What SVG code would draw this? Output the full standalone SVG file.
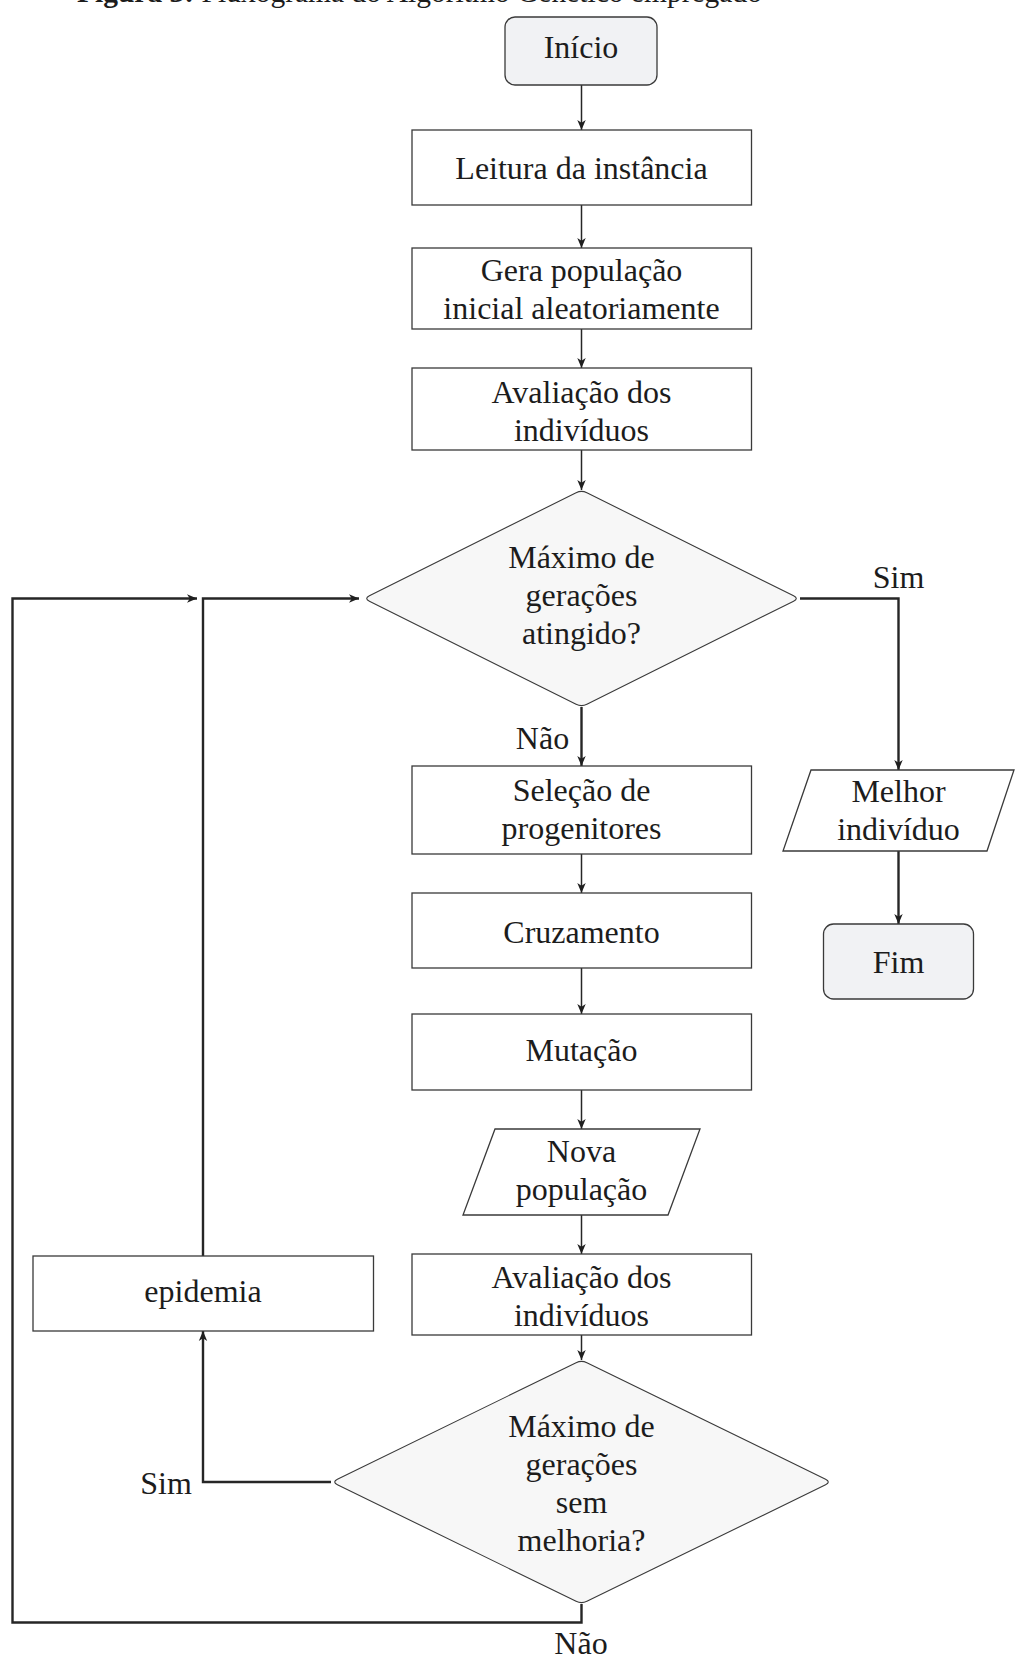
<svg xmlns="http://www.w3.org/2000/svg" width="1015" height="1659" viewBox="0 0 1015 1659">
  <defs>
    <marker id="ah" viewBox="0 0 10 10" refX="10" refY="5" markerWidth="10" markerHeight="10" markerUnits="userSpaceOnUse" orient="auto">
      <path d="M0,0.8 L10,5 L0,9.2 L2.8,5 Z" fill="#1f1f1f"/>
    </marker>
    <style>
      .box  { fill: #ffffff; stroke: #3a3a3a; stroke-width: 1.3; }
      .term { fill: #f1f2f4; stroke: #3a3a3a; stroke-width: 1.3; }
      .dec  { fill: #f7f7f7; stroke: #3a3a3a; stroke-width: 1.1; }
      .io   { fill: #ffffff; stroke: #3a3a3a; stroke-width: 1.3; }
      .lbl  { font-family: "Liberation Serif", "Times New Roman", serif; font-size: 32px; fill: #1c1c1c; text-anchor: middle; }
      .cap  { font-family: "Liberation Serif", "Times New Roman", serif; font-size: 29.5px; fill: #1c1c1c; }
      .arr  { fill: none; stroke: #262626; stroke-width: 1.5; marker-end: url(#ah); }
      .flow { fill: none; stroke: #262626; stroke-width: 2.4; }
      .flowA { marker-end: url(#ah); }
    </style>
  </defs>

  <rect width="1015" height="1659" fill="#ffffff"/>

  <!-- figure caption, running off the top edge -->
  <text class="cap" x="77" y="2"><tspan font-weight="bold">Figura 3:</tspan> Fluxograma do Algoritmo Genético empregado</text>

  <!-- connectors -->
  <g id="connectors">
    <path class="arr" d="M581.5,85 V130"/>
    <path class="arr" d="M581.5,205 V248"/>
    <path class="arr" d="M581.5,329 V368"/>
    <path class="arr" d="M581.5,450 V490"/>
    <path class="flow flowA" d="M581.5,707 V766"/>
    <path class="flow flowA" d="M800,598.5 H898.5 V770"/>
    <path class="flow flowA" d="M898.5,851 V924"/>
    <path class="arr" d="M581.5,854 V893"/>
    <path class="arr" d="M581.5,968 V1014"/>
    <path class="arr" d="M581.5,1090 V1129"/>
    <path class="arr" d="M581.5,1215 V1254"/>
    <path class="arr" d="M581.5,1335 V1360"/>
    <path class="flow flowA" d="M331,1482 H203 V1331"/>
    <path class="flow flowA" d="M203,1256 V598.5 H359"/>
    <path class="flow flowA" d="M581.5,1604 V1622.5 H12.5 V598.5 H197"/>
    <text class="lbl" x="898.5" y="588">Sim</text>
    <text class="lbl" x="542.5" y="749">Não</text>
    <text class="lbl" x="166" y="1494">Sim</text>
    <text class="lbl" x="581" y="1654">Não</text>
  </g>

  <g id="inicio">
    <rect class="term" x="505" y="17" width="152" height="68" rx="10"/>
    <text class="lbl" x="581" y="58">Início</text>
  </g>

  <g id="leitura">
    <rect class="box" x="412" y="130" width="339.5" height="75"/>
    <text class="lbl" x="581.5" y="179">Leitura da instância</text>
  </g>

  <g id="gera">
    <rect class="box" x="412" y="248" width="339.5" height="81"/>
    <text class="lbl" x="581.5" y="281">Gera população</text>
    <text class="lbl" x="581.5" y="319">inicial aleatoriamente</text>
  </g>

  <g id="avaliacao1">
    <rect class="box" x="412" y="368" width="339.5" height="82"/>
    <text class="lbl" x="581.5" y="402.5">Avaliação dos</text>
    <text class="lbl" x="581.5" y="440.5">indivíduos</text>
  </g>

  <g id="decisao1">
    <path class="dec" d="M576.1,492.7 Q581.5,490 586.9,492.7 L793.6,595.8 Q799,598.5 793.6,601.2 L586.9,704.3 Q581.5,707 576.1,704.3 L369.4,601.2 Q364,598.5 369.4,595.8 Z"/>
    <text class="lbl" x="581.5" y="568">Máximo de</text>
    <text class="lbl" x="581.5" y="606">gerações</text>
    <text class="lbl" x="581.5" y="644">atingido?</text>
  </g>

  <g id="selecao">
    <rect class="box" x="412" y="766" width="339.5" height="88"/>
    <text class="lbl" x="581.5" y="800.5">Seleção de</text>
    <text class="lbl" x="581.5" y="838.5">progenitores</text>
  </g>

  <g id="cruzamento">
    <rect class="box" x="412" y="893" width="339.5" height="75"/>
    <text class="lbl" x="581.5" y="942.5">Cruzamento</text>
  </g>

  <g id="mutacao">
    <rect class="box" x="412" y="1014" width="339.5" height="76"/>
    <text class="lbl" x="581.5" y="1060.5">Mutação</text>
  </g>

  <g id="nova-populacao">
    <path class="io" d="M495,1129 H700 L668,1215 H463 Z"/>
    <text class="lbl" x="581.5" y="1161.5">Nova</text>
    <text class="lbl" x="581.5" y="1199.5">população</text>
  </g>

  <g id="avaliacao2">
    <rect class="box" x="412" y="1254" width="339.5" height="81"/>
    <text class="lbl" x="581.5" y="1287.5">Avaliação dos</text>
    <text class="lbl" x="581.5" y="1325.5">indivíduos</text>
  </g>

  <g id="decisao2">
    <path class="dec" d="M576.1,1362.7 Q581.5,1360 586.9,1362.7 L825.6,1479.3 Q831,1482 825.6,1484.7 L586.9,1601.3 Q581.5,1604 576.1,1601.3 L337.4,1484.7 Q332,1482 337.4,1479.3 Z"/>
    <text class="lbl" x="581.5" y="1437">Máximo de</text>
    <text class="lbl" x="581.5" y="1475">gerações</text>
    <text class="lbl" x="581.5" y="1513">sem</text>
    <text class="lbl" x="581.5" y="1551">melhoria?</text>
  </g>

  <g id="epidemia">
    <rect class="box" x="33" y="1256" width="340.5" height="75"/>
    <text class="lbl" x="203" y="1302">epidemia</text>
  </g>

  <g id="melhor-individuo">
    <path class="io" d="M811,770 H1014 L987,851 H783 Z"/>
    <text class="lbl" x="898.5" y="802">Melhor</text>
    <text class="lbl" x="898.5" y="840">indivíduo</text>
  </g>

  <g id="fim">
    <rect class="term" x="823.5" y="924" width="150" height="75" rx="10"/>
    <text class="lbl" x="898.5" y="972.5">Fim</text>
  </g>
</svg>
